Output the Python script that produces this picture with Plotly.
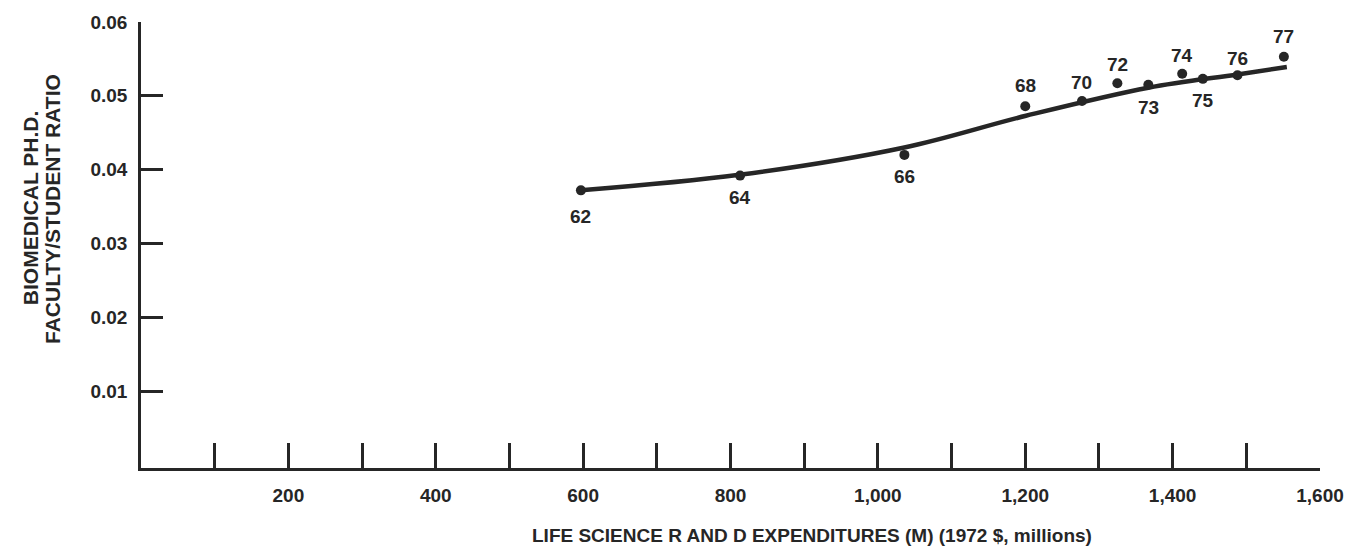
import plotly.graph_objects as go

# Observed years (19xx) with life-science R&D spending and faculty/student ratio
years = ["62", "64", "66", "68", "70", "72", "73", "74", "75", "76", "77"]
spending = [597, 813, 1036, 1200, 1277, 1325, 1367, 1413, 1441, 1488, 1551]
ratio = [0.0372, 0.0392, 0.0420, 0.0486, 0.0493, 0.0517, 0.0515, 0.0530, 0.0523, 0.0528, 0.0553]

# Smoothed trend drawn through the observations
trend_x = [597, 812, 1036, 1201, 1367, 1488, 1555]
trend_y = [0.0372, 0.0393, 0.0430, 0.0473, 0.0511, 0.0529, 0.0539]

x_ticks = list(range(100, 1700, 100))
x_tick_text = ["", "200", "", "400", "", "600", "", "800", "", "1,000",
               "", "1,200", "", "1,400", "", "1,600"]
y_ticks = [0.01, 0.02, 0.03, 0.04, 0.05, 0.06]
y_tick_text = ["0.01", "0.02", "0.03", "0.04", "0.05", "0.06"]

# vertical pixel offset of each year label from its dot
label_shift = [-26, -22, -22, 21, 19, 19, -23, 18, -22, 17, 20]

INK = "#262626"
FONT = "Liberation Sans, Arial, sans-serif"

L, R, T, B = 141, 30, 21, 82
W, H = 1356, 550
plot_w = W - L - R
plot_h = H - T - B


def px_to_paper(px, py):
    return (px - L) / plot_w, (H - B - py) / plot_h


fig = go.Figure()
fig.add_trace(go.Scatter(
    x=trend_x, y=trend_y, mode="lines",
    line=dict(color=INK, width=4.5, shape="spline", smoothing=1.0),
    hoverinfo="skip", showlegend=False,
))
fig.add_trace(go.Scatter(
    x=spending, y=ratio, mode="markers",
    marker=dict(color=INK, size=10),
    showlegend=False,
))

for yr, xv, yv, dy in zip(years, spending, ratio, label_shift):
    fig.add_annotation(
        x=xv, y=yv, xref="x", yref="y", text=f"<b>{yr}</b>",
        showarrow=False, yshift=dy,
        font=dict(family=FONT, size=19, color=INK),
    )

tx, ty = px_to_paper(815, 536)
fig.add_annotation(
    x=tx, y=ty, xref="paper", yref="paper", xanchor="center", yanchor="middle",
    text="<b>LIFE SCIENCE R AND D EXPENDITURES (M) (1972 $, millions)</b>",
    showarrow=False, font=dict(family=FONT, size=19, color=INK),
)

for line_text, cx in [("BIOMEDICAL PH.D.", 30), ("FACULTY/STUDENT RATIO", 52)]:
    ax, ay = px_to_paper(cx, 208)
    fig.add_annotation(
        x=ax, y=ay, xref="paper", yref="paper", xanchor="center", yanchor="middle",
        text=f"<b>{line_text}</b>", showarrow=False, textangle=-90,
        font=dict(family=FONT, size=21, color=INK),
    )

fig.update_layout(
    width=W, height=H,
    margin=dict(l=L, r=R, t=T, b=B),
    paper_bgcolor="white", plot_bgcolor="white",
    font=dict(family=FONT, color=INK),
    xaxis=dict(
        range=[0, 1600], tickvals=x_ticks, ticktext=x_tick_text,
        ticks="inside", ticklen=25, tickwidth=2.5, tickcolor=INK,
        showline=True, linecolor=INK, linewidth=2.5,
        showgrid=False, zeroline=False, ticklabelstandoff=8,
        tickfont=dict(family=FONT, size=19, color=INK, weight="bold"),
    ),
    yaxis=dict(
        range=[-0.0004, 0.06], tickvals=y_ticks, ticktext=y_tick_text,
        ticks="inside", ticklen=22, tickwidth=2.5, tickcolor=INK,
        showline=True, linecolor=INK, linewidth=2.5,
        showgrid=False, zeroline=False, ticklabelstandoff=7,
        tickfont=dict(family=FONT, size=19, color=INK, weight="bold"),
    ),
)

fig.write_html("out.html")
